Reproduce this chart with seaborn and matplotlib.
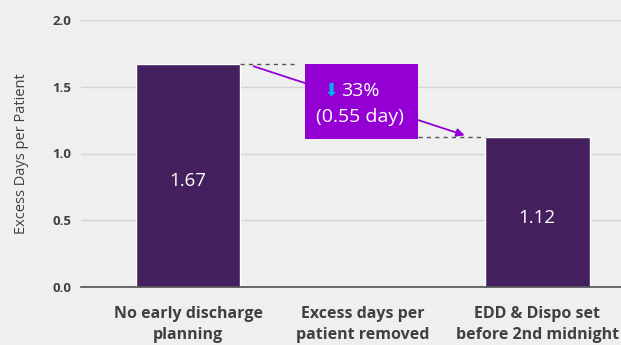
import numpy as np
import pandas as pd
import seaborn as sns
import matplotlib.pyplot as plt
from matplotlib.patches import Rectangle

# Data
categories = ["No early discharge\nplanning", "Excess days per\npatient removed", "EDD & Dispo set\nbefore 2nd midnight"]
values = [1.67, np.nan, 1.12]
bar_labels = ["1.67", "", "1.12"]
reduction_pct = "33%"
reduction_days = "(0.55 day)"

bg = "#efefef"
bar_color = "#45205e"
box_color = "#9400d3"

sns.set_theme(style="whitegrid")
plt.rcParams['font.family'] = ['Open Sans', 'DejaVu Sans']

fig = plt.figure(figsize=(6.21, 3.45), dpi=100, facecolor=bg)
ax = fig.add_axes([81 / 621, 1 - 287 / 345, 540 / 621, 267 / 345])
ax.set_facecolor(bg)

df = pd.DataFrame({"Category": categories, "Value": values})
sns.barplot(data=df, x="Category", y="Value", color=bar_color, width=0.6, saturation=1, ax=ax)

ax.set_xlim(-0.613, 2.48)
ax.set_ylim(0, 2.0)
ax.set_yticks([0, 0.5, 1.0, 1.5, 2.0])
ax.set_yticklabels(["0.0", "0.5", "1.0", "1.5", "2.0"])
ax.set_xticks(range(len(categories)))
ax.set_xticklabels(categories)
for t in ax.get_yticklabels():
    t.set_fontsize(9.5)
    t.set_fontweight("bold")
    t.set_color("#404040")
for t in ax.get_xticklabels():
    t.set_fontsize(11.5)
    t.set_fontweight("bold")
    t.set_color("#404040")
    t.set_linespacing(1.4)
ax.tick_params(axis="x", length=0, pad=14)
ax.tick_params(axis="y", length=0, pad=7)
ax.set_xlabel("")
ax.set_ylabel("Excess Days per Patient", fontsize=10.5, color="#404040", labelpad=17)
ax.grid(axis="y", color="#d4d4d8", linewidth=1)
ax.grid(axis="x", visible=False)
for s in ["left", "right", "top"]:
    ax.spines[s].set_visible(False)
ax.spines["bottom"].set_color("#505050")
ax.spines["bottom"].set_linewidth(1.2)

# Value labels inside bars
for i, (v, lab) in enumerate(zip(values, bar_labels)):
    if lab:
        ax.text(i, v / 2 - 0.04, lab, ha="center", va="center", color="white", fontsize=13.5)

# Dashed connector lines
ax.plot([0.3, 0.63], [values[0], values[0]], ls="--", color="#555555", lw=1, dashes=(3, 3))
ax.plot([1.32, 1.7], [values[2], values[2]], ls="--", color="#555555", lw=1, dashes=(3, 3))

# Arrow
ax.annotate("", xy=(1.6, values[2] + 0.01), xytext=(0.36, values[0] - 0.01),
            arrowprops=dict(arrowstyle="-|>", color=box_color, lw=1.3, mutation_scale=12))

# Box with reduction
ax.add_patch(Rectangle((0.67, 1.11), 0.65, 0.56, facecolor=box_color, edgecolor="none", zorder=5))
ax.text(0.82, 1.47, "\u2b07", ha="center", va="center", color="#00b0f0", fontsize=13,
        family="DejaVu Sans", zorder=6)
ax.text(0.875, 1.47, reduction_pct, ha="left", va="center", color="white", fontsize=14, zorder=6)
ax.text(0.985, 1.27, reduction_days, ha="center", va="center", color="white", fontsize=14, zorder=6)

plt.savefig("out.png", dpi=100, facecolor=bg)
